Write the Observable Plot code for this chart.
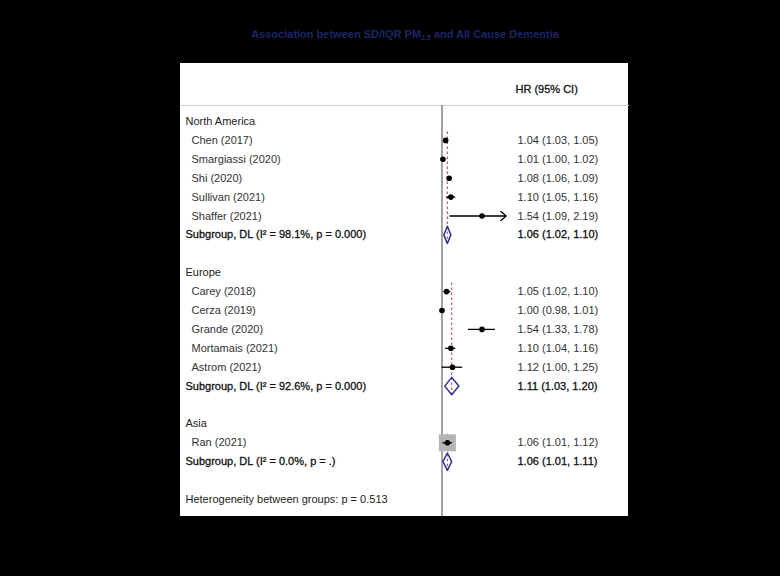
<!DOCTYPE html>
<html>
<head>
<meta charset="utf-8">
<script src="https://cdn.jsdelivr.net/npm/d3@7"></script>
<script src="https://cdn.jsdelivr.net/npm/@observablehq/plot@0.6"></script>
<style>
  html, body { margin: 0; padding: 0; background: #000; }
  body { width: 780px; height: 576px; position: relative; overflow: hidden; font-family: "Liberation Sans", Arial, sans-serif; }
  #title { position: absolute; left: 180px; width: 450px; top: 26px; text-align: center; color: #1c2568; font-size: 11px; font-weight: bold; line-height: 16px; white-space: nowrap; }
  #title sub { font-size: 7px; vertical-align: -2px; line-height: 0; }
  #chart { position: absolute; left: 180px; top: 63px; }
</style>
</head>
<body>
<div id="title"></div>
<div id="chart"></div>
<script>
// ---- data ----
const regions = ["North America", "Europe", "Asia"];
const studyNames = ["Chen (2017)", "Smargiassi (2020)", "Shi (2020)", "Sullivan (2021)", "Shaffer (2021)",
  "Carey (2018)", "Cerza (2019)", "Grande (2020)", "Mortamais (2021)", "Astrom (2021)",
  "Ran (2021)"];
const studyRegion = ["North America", "North America", "North America", "North America", "North America",
  "Europe", "Europe", "Europe", "Europe", "Europe", "Asia"];
const studyHR = [1.04, 1.01, 1.08, 1.10, 1.54, 1.05, 1.00, 1.54, 1.10, 1.12, 1.06];
const studyLo = [1.03, 1.00, 1.06, 1.05, 1.09, 1.02, 0.98, 1.33, 1.04, 1.00, 1.01];
const studyHi = [1.05, 1.02, 1.09, 1.16, 2.19, 1.10, 1.01, 1.78, 1.16, 1.25, 1.12];
const studyWeight = [24, 25, 25, 21, 5, 23, 25, 18, 21, 13, 100];
const subHR = [1.06, 1.11, 1.06];
const subLo = [1.02, 1.03, 1.01];
const subHi = [1.10, 1.20, 1.11];
const subI2 = ["98.1%", "92.6%", "0.0%"];
const subP = ["0.000", "0.000", "."];
const hetLabel = "Heterogeneity between groups: p = 0.513";
const headerLabel = "HR (95% CI)";
const titleParts = ["Association between SD/IQR PM", "2.5", " and All Cause Dementia"];
const xDomain = [1, 2];

// ---- build rows ----
const fmt = d3.format(".2f");
const ciText = (h, l, u) => `${fmt(h)} (${fmt(l)}, ${fmt(u)})`;
const rows = [];
let r = 0;
regions.forEach((reg, gi) => {
  rows.push({row: r++, kind: "region", label: reg});
  const first = r;
  studyNames.forEach((n, i) => {
    if (studyRegion[i] === reg) rows.push({row: r++, kind: "study", label: n, hr: studyHR[i], lo: studyLo[i], hi: studyHi[i], w: studyWeight[i]});
  });
  rows.push({row: r++, kind: "sub", first, label: `Subgroup, DL (I\u00B2 = ${subI2[gi]}, p = ${subP[gi]})`, hr: subHR[gi], lo: subLo[gi], hi: subHi[gi]});
  r++;
});
rows.push({row: r, kind: "het", label: hetLabel});

const xMax = xDomain[1];
const studies = rows.filter(d => d.kind === "study");
const inRange = studies.filter(d => d.hi <= xMax);
const clipped = studies.filter(d => d.hi > xMax);
const subs = rows.filter(d => d.kind === "sub");
const dh = 0.46;
const diamonds = subs.flatMap((d, i) => [
  {g: i, x: d.lo, y: d.row}, {g: i, x: d.hr, y: d.row - dh},
  {g: i, x: d.hi, y: d.row}, {g: i, x: d.hr, y: d.row + dh}
]);

document.getElementById("title").innerHTML = `${titleParts[0]}<sub>${titleParts[1]}</sub>${titleParts[2]}`;

const font = "Liberation Sans, Arial, sans-serif";
const chart = Plot.plot({
  width: 448,
  height: 453,
  marginTop: 42,
  marginLeft: 0,
  marginRight: 0,
  marginBottom: 0,
  style: {background: "white", fontFamily: font, overflow: "visible"},
  x: {type: "log", domain: xDomain, range: [261.5, 325.7], axis: null},
  y: {domain: [0, 20], range: [58, 436], axis: null},
  r: {type: "linear", domain: [0, 100], range: [0, 9.6]},
  marks: [
    Plot.frame({anchor: "top", stroke: "#cfcfcf", strokeWidth: 1}),
    Plot.ruleX([1], {stroke: "#8c8c8c", strokeWidth: 1.6}),
    Plot.ruleX(subs, {x: "hr", y1: d => d.first - 0.45, y2: d => d.row + 0.45, stroke: "#e0505a", strokeDasharray: "2.5,2.5", strokeWidth: 1.2}),
    Plot.dot(studies, {x: "hr", y: "row", r: "w", symbol: "square", fill: "#b5b5b5"}),
    Plot.ruleY(inRange, {x1: "lo", x2: "hi", y: "row", stroke: "black", strokeWidth: 1.3}),
    Plot.arrow(clipped, {x1: "lo", x2: () => xMax, y1: "row", y2: "row", stroke: "black", strokeWidth: 1.3, headLength: 8, headAngle: 80}),
    Plot.dot(studies, {x: "hr", y: "row", r: 2.8, fill: "black"}),
    Plot.line(diamonds, {x: "x", y: "y", z: "g", curve: "linear-closed", stroke: "#2d33a3", strokeWidth: 1.5}),
    // left labels
    Plot.text(rows.filter(d => d.kind === "region" || d.kind === "het"), {y: "row", text: "label", frameAnchor: "left", textAnchor: "start", dx: 5, fontSize: 11, fill: "#222"}),
    Plot.text(studies, {y: "row", text: "label", frameAnchor: "left", textAnchor: "start", dx: 11, fontSize: 11, fill: "#333"}),
    Plot.text(subs, {y: "row", text: "label", frameAnchor: "left", textAnchor: "start", dx: 5, fontSize: 11, fill: "#111", stroke: "#111", strokeWidth: 0.3, paintOrder: "fill"}),
    // right column
    Plot.text(studies, {y: "row", text: d => ciText(d.hr, d.lo, d.hi), frameAnchor: "left", textAnchor: "start", dx: 337, fontSize: 11, fill: "#333"}),
    Plot.text(subs, {y: "row", text: d => ciText(d.hr, d.lo, d.hi), frameAnchor: "left", textAnchor: "start", dx: 337, fontSize: 11, fill: "#111", stroke: "#111", strokeWidth: 0.3, paintOrder: "fill"}),
    Plot.text([headerLabel], {text: d => d, frameAnchor: "top-left", textAnchor: "start", lineAnchor: "middle", dx: 335, dy: -16, fontSize: 11, fill: "#111", stroke: "#111", strokeWidth: 0.3, paintOrder: "fill"})
  ]
});
document.getElementById("chart").appendChild(chart);
</script>
</body>
</html>
